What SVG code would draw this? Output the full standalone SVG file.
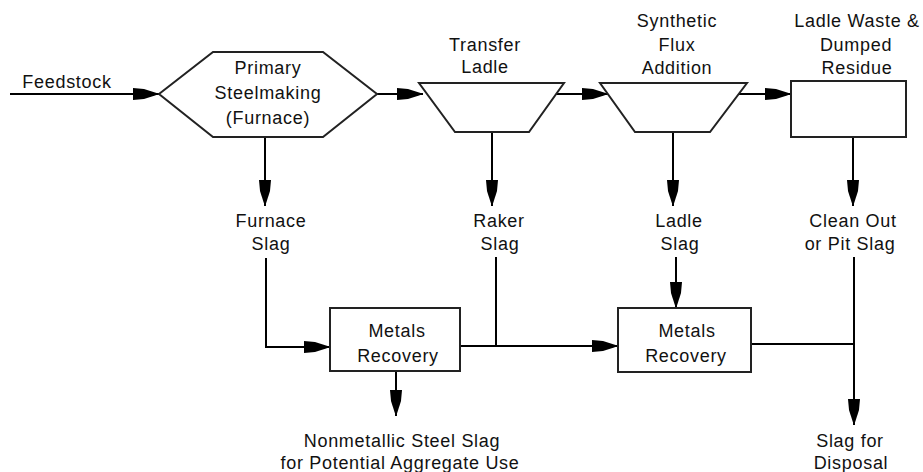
<svg xmlns="http://www.w3.org/2000/svg" width="923" height="472" viewBox="0 0 923 472">
<style>
text{font-family:"Liberation Sans",Arial,sans-serif;font-size:18px;letter-spacing:0.7px;fill:#111;text-anchor:middle}
.shape{fill:#fff;stroke:#222;stroke-width:2}
.conn{fill:none;stroke:#000;stroke-width:2}
.arr{marker-end:url(#ah)}
</style>
<defs>
<marker id="ah" markerUnits="userSpaceOnUse" markerWidth="30" markerHeight="16" refX="26" refY="8" orient="auto">
<path d="M0,2 L11,3 L22,6.5 L26,8 L22,9.5 L11,13 L0,14 Z" fill="#000"/>
</marker>
</defs>
<rect width="923" height="472" fill="#fff"/>
<g id="connectors">
<path class="conn arr" d="M10,94 H159"/>
<path class="conn arr" d="M377,94 H423"/>
<path class="conn arr" d="M556,94 H608"/>
<path class="conn arr" d="M739,94 H791"/>
<path class="conn arr" d="M265,137 V206"/>
<path class="conn arr" d="M492,132 V206"/>
<path class="conn arr" d="M673,132 V206"/>
<path class="conn arr" d="M853,137 V206"/>
<path class="conn arr" d="M266,258 V347 H330"/>
<path class="conn arr" d="M396,371 V416"/>
<path class="conn" d="M496,257 V346"/>
<path class="conn arr" d="M460,346 H618"/>
<path class="conn arr" d="M676,257 V308"/>
<path class="conn" d="M751,344 H854"/>
<path class="conn arr" d="M854,257 V425"/>
</g>
<g id="feedstock"><text x="67" y="88">Feedstock</text></g>
<g id="primary">
<polygon class="shape" points="159,94 213,52 323,52 377,94 323,137 213,137"/>
<text x="268" y="74">Primary</text>
<text x="268" y="99">Steelmaking</text>
<text x="268" y="124">(Furnace)</text>
</g>
<g id="transfer">
<polygon class="shape" points="419,83 564,83 529,132 455,132"/>
<text x="485" y="51">Transfer</text>
<text x="485" y="73">Ladle</text>
</g>
<g id="flux">
<polygon class="shape" points="600,83 747,83 710,132 635,132"/>
<text x="677" y="27">Synthetic</text>
<text x="677" y="51">Flux</text>
<text x="677" y="74">Addition</text>
</g>
<g id="waste">
<rect class="shape" x="791" y="81" width="115" height="56"/>
<text x="857" y="27">Ladle Waste &amp;</text>
<text x="856" y="51">Dumped</text>
<text x="857" y="74">Residue</text>
</g>
<g id="furnace-slag"><text x="271" y="227">Furnace</text><text x="271" y="250">Slag</text></g>
<g id="raker-slag"><text x="499" y="227">Raker</text><text x="500" y="250">Slag</text></g>
<g id="ladle-slag"><text x="679" y="227">Ladle</text><text x="680" y="250">Slag</text></g>
<g id="pit-slag"><text x="853" y="227">Clean Out</text><text x="850" y="250">or Pit Slag</text></g>
<g id="metals1">
<rect class="shape" x="330" y="308" width="130" height="63"/>
<text x="397" y="337">Metals</text>
<text x="398" y="362">Recovery</text>
</g>
<g id="metals2">
<rect class="shape" x="618" y="308" width="133" height="64"/>
<text x="687" y="337">Metals</text>
<text x="686" y="362">Recovery</text>
</g>
<g id="aggregate"><text x="402" y="447">Nonmetallic Steel Slag</text><text x="400" y="469">for Potential Aggregate Use</text></g>
<g id="disposal"><text x="850" y="447">Slag for</text><text x="851" y="469">Disposal</text></g>
</svg>
